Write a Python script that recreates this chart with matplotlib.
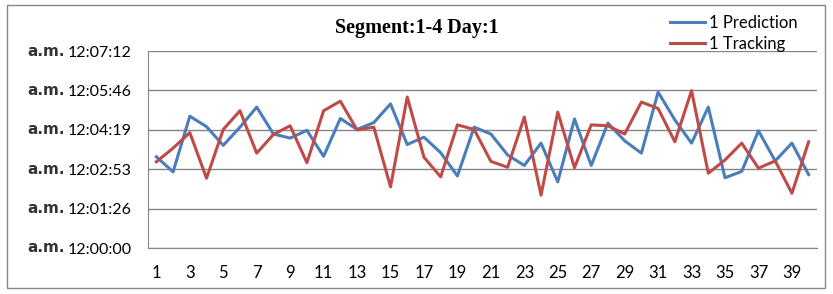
import matplotlib.pyplot as plt
from matplotlib.ticker import FuncFormatter
from matplotlib.patches import Rectangle
import matplotlib.transforms as mtransforms

# seconds after a.m. 12:00:00
points = list(range(1, 41))
prediction = [200, 167, 289, 266, 225, 265, 309, 250, 241, 258,
              201, 284, 260, 275, 316, 227, 243, 209, 158, 265,
              250, 204, 181, 230, 145, 283, 181, 274, 235, 208,
              342, 281, 230, 309, 154, 168, 257, 191, 230, 161]
tracking = [189, 219, 253, 153, 260, 301, 208, 249, 268, 187,
            301, 322, 259, 265, 134, 331, 199, 156, 270, 260,
            190, 177, 287, 116, 298, 176, 270, 268, 250, 320,
            306, 233, 345, 164, 193, 230, 175, 191, 120, 233]
xticks = list(range(1, 40, 2))
yticks = [0, 86.4, 172.8, 259.2, 345.6, 432]


def fmt_time(v, pos):
    s = int(round(v))
    return '12:%02d:%02d' % (s // 60, s % 60)


fig = plt.figure(figsize=(8.33, 2.94), dpi=100)
fig.patches.append(Rectangle((7 / 833, 6 / 294), 818 / 833, 283 / 294,
                             transform=fig.transFigure, fill=False,
                             edgecolor='#868686', linewidth=1))
ax = fig.add_axes([148 / 833, 46 / 294, 669 / 833, 197 / 294])

ax.plot(points, prediction, color='#4A7EBB', linewidth=2.2, label='1 Prediction')
ax.plot(points, tracking, color='#BE4B48', linewidth=2.2, label='1 Tracking')

ax.set_xlim(0.5, 40.5)
ax.set_ylim(0, 432)
ax.set_yticks(yticks)
ax.yaxis.set_major_formatter(FuncFormatter(fmt_time))
ax.set_xticks(xticks)
ax.grid(axis='y', color='#868686', linewidth=1)
ax.set_axisbelow(True)
for side in ['top', 'right']:
    ax.spines[side].set_visible(False)
for side in ['left', 'bottom']:
    ax.spines[side].set_color('#868686')
ax.tick_params(length=0, labelsize=12)
ax.tick_params(axis='y', labelsize=11.5, pad=11.5)
ax.tick_params(axis='x', pad=12)
for lab in ax.get_xticklabels() + ax.get_yticklabels():
    lab.set_fontfamily('Lato')

trans = mtransforms.blended_transform_factory(fig.transFigure, ax.transData)
for t in yticks:
    ax.text(65 / 833, t, 'a.m.', transform=trans, ha='right', va='center',
            fontsize=11, fontweight='bold', family='DejaVu Sans', color='#333333')

fig.text(0.5, 0.905, 'Segment:1-4 Day:1', ha='center', va='center',
         fontsize=14.5, fontweight='bold', family='Liberation Serif')

fig.legend(loc='upper right', bbox_to_anchor=(804 / 833, 286 / 294), frameon=False,
           prop={'family': 'Lato', 'size': 12}, handlelength=2.1,
           handletextpad=0.2, labelspacing=0.3, borderaxespad=0)

fig.savefig('out.png', dpi=100)
